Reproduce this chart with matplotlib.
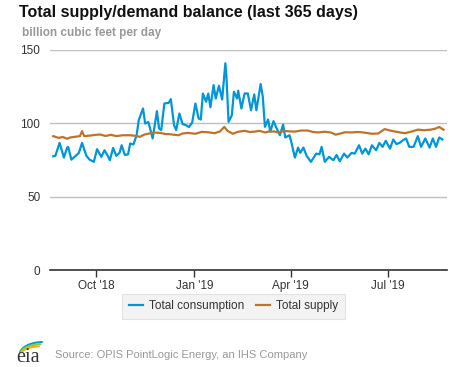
import matplotlib
matplotlib.use("Agg")
import matplotlib.pyplot as plt
import numpy as np
import pandas as pd

plt.rcParams['font.family'] = ['Liberation Sans', 'DejaVu Sans']

# ---- data ----
cons_dates = [
    "2018-08-22", "2018-08-24", "2018-08-28", "2018-09-01", "2018-09-04", "2018-09-05",
    "2018-09-08", "2018-09-12", "2018-09-15", "2018-09-18", "2018-09-22", "2018-09-25",
    "2018-09-29", "2018-10-02", "2018-10-06", "2018-10-09", "2018-10-12", "2018-10-14",
    "2018-10-17", "2018-10-20", "2018-10-23", "2018-10-25", "2018-10-28", "2018-10-31",
    "2018-11-02", "2018-11-05", "2018-11-08", "2018-11-10", "2018-11-14", "2018-11-16",
    "2018-11-19", "2018-11-21", "2018-11-23", "2018-11-27", "2018-11-29", "2018-12-01",
    "2018-12-04", "2018-12-08", "2018-12-10", "2018-12-13", "2018-12-15", "2018-12-18",
    "2018-12-21", "2018-12-24", "2018-12-27", "2018-12-30", "2019-01-02", "2019-01-05",
    "2019-01-07", "2019-01-09", "2019-01-12", "2019-01-14", "2019-01-16", "2019-01-19",
    "2019-01-21", "2019-01-24", "2019-01-27", "2019-01-30", "2019-01-31", "2019-02-02",
    "2019-02-05", "2019-02-07", "2019-02-10", "2019-02-11", "2019-02-14", "2019-02-17",
    "2019-02-20", "2019-02-23", "2019-02-26", "2019-02-28", "2019-03-04", "2019-03-06",
    "2019-03-08", "2019-03-11", "2019-03-13", "2019-03-16", "2019-03-19", "2019-03-22",
    "2019-03-25", "2019-03-27", "2019-03-31", "2019-04-02", "2019-04-05", "2019-04-08",
    "2019-04-10", "2019-04-13", "2019-04-16", "2019-04-20", "2019-04-25", "2019-04-28",
    "2019-04-30", "2019-05-03", "2019-05-07", "2019-05-11", "2019-05-14", "2019-05-17",
    "2019-05-21", "2019-05-24", "2019-05-28", "2019-05-31", "2019-06-04", "2019-06-07",
    "2019-06-10", "2019-06-13", "2019-06-16", "2019-06-20", "2019-06-23", "2019-06-26",
    "2019-06-29", "2019-07-03", "2019-07-06", "2019-07-09", "2019-07-12", "2019-07-15",
    "2019-07-18", "2019-07-21", "2019-07-25", "2019-07-29", "2019-08-01", "2019-08-05",
    "2019-08-09", "2019-08-12", "2019-08-15", "2019-08-18", "2019-08-21",
]
consumption = [
    77.7, 78.0, 86.8, 76.8, 83.6, 84.0,
    75.4, 78.0, 80.0, 86.8, 78.0, 75.4,
    73.9, 82.5, 77.3, 81.8, 78.0, 75.0,
    83.4, 78.0, 80.0, 85.2, 78.6, 79.0,
    86.4, 85.7, 92.0, 102.3, 110.2, 100.0,
    101.0, 95.5, 89.8, 108.4, 96.6, 95.5,
    113.6, 114.0, 116.6, 98.9, 95.5, 106.8,
    99.6, 98.9, 97.6, 100.7, 113.6, 103.4,
    102.7, 120.4, 114.8, 120.4, 111.0, 126.1,
    117.0, 125.7, 116.3, 141.0, 131.8, 101.1,
    105.5, 121.6, 117.0, 122.3, 110.2, 120.4,
    120.4, 109.0, 119.8, 109.0, 126.8, 118.2,
    97.7, 102.7, 94.3, 101.6, 96.6, 92.0,
    99.3, 90.5, 92.0, 86.4, 76.8, 83.6,
    80.0, 83.6, 78.0, 73.9, 79.5, 79.0,
    84.1, 73.9, 77.3, 75.0, 78.6, 74.3,
    79.5, 76.8, 80.0, 79.5, 85.2, 79.5,
    82.9, 79.0, 85.2, 81.8, 86.8, 84.1,
    88.2, 82.9, 89.1, 86.0, 86.8, 88.6,
    89.8, 84.1, 84.1, 91.4, 84.1, 89.8,
    83.6, 89.8, 84.1, 90.5, 89.1,
]

supply_dates = [
    "2018-08-22", "2018-08-27", "2018-08-31", "2018-09-04", "2018-09-07", "2018-09-11",
    "2018-09-16", "2018-09-18", "2018-09-20", "2018-09-26", "2018-10-01", "2018-10-05",
    "2018-10-10", "2018-10-15", "2018-10-20", "2018-10-26", "2018-11-02", "2018-11-07",
    "2018-11-11", "2018-11-15", "2018-11-20", "2018-11-25", "2018-11-30", "2018-12-05",
    "2018-12-09", "2018-12-17", "2018-12-21", "2018-12-26", "2019-01-02", "2019-01-08",
    "2019-01-14", "2019-01-20", "2019-01-25", "2019-01-29", "2019-02-01", "2019-02-06",
    "2019-02-11", "2019-02-17", "2019-02-22", "2019-02-27", "2019-03-03", "2019-03-08",
    "2019-03-12", "2019-03-17", "2019-03-21", "2019-03-26", "2019-03-31", "2019-04-05",
    "2019-04-11", "2019-04-17", "2019-04-22", "2019-04-27", "2019-05-03", "2019-05-09",
    "2019-05-13", "2019-05-16", "2019-05-22", "2019-05-28", "2019-06-03", "2019-06-09",
    "2019-06-16", "2019-06-22", "2019-06-28", "2019-07-03", "2019-07-08", "2019-07-13",
    "2019-07-17", "2019-07-23", "2019-07-29", "2019-08-04", "2019-08-10", "2019-08-14",
    "2019-08-18", "2019-08-22",
]
supply = [
    91.4, 90.2, 90.8, 89.6, 90.5, 90.9,
    91.4, 94.8, 91.4, 91.8, 92.3, 92.5,
    91.5, 92.3, 91.4, 92.0, 92.0, 91.6,
    90.9, 92.4, 93.2, 93.8, 93.6, 92.8,
    92.7, 92.0, 93.2, 93.6, 93.0, 94.3,
    94.0, 93.4, 94.6, 97.7, 95.0, 93.0,
    94.4, 95.0, 94.2, 94.5, 95.0, 93.9,
    94.6, 94.5, 93.8, 95.0, 94.6, 94.5,
    95.2, 95.2, 94.2, 93.9, 94.4, 93.8,
    92.4, 92.9, 94.0, 93.9, 94.2, 93.8,
    93.0, 93.2, 96.2, 95.2, 94.5, 93.8,
    93.4, 94.5, 95.8, 95.4, 95.8, 96.4,
    97.6, 95.8,
]

tick_dates = ["2018-10-01", "2019-01-01", "2019-04-01", "2019-07-01"]
tick_labels = ["Oct '18", "Jan '19", "Apr '19", "Jul '19"]
y_ticks = [0, 50, 100, 150]

# ---- figure ----
fig = plt.figure(figsize=(4.77, 3.67), dpi=100)
ax = fig.add_axes([0.1048, 0.263, 0.8317, 0.6008])

cd = pd.to_datetime(cons_dates)
sd = pd.to_datetime(supply_dates)
ax.plot(cd, consumption, color="#0096D7", lw=1.6, label="Total consumption", zorder=3)
ax.plot(sd, supply, color="#BD732A", lw=1.6, label="Total supply", zorder=3)

ax.set_xlim(pd.Timestamp("2018-08-19"), pd.Timestamp("2019-08-25"))
ax.set_ylim(0, 150)
ax.set_yticks(y_ticks)
ax.set_yticklabels([str(v) for v in y_ticks], fontsize=8.5, color="#333333")
ax.set_xticks(pd.to_datetime(tick_dates))
ax.set_xticklabels(tick_labels, fontsize=8.5, color="#333333")
ax.tick_params(axis="y", length=0, pad=7)
ax.tick_params(axis="x", length=5, width=1, color="#333333", pad=2)
ax.grid(axis="y", color="#c0c0c0", lw=1)
ax.set_axisbelow(True)
for s in ["top", "right", "left"]:
    ax.spines[s].set_visible(False)
ax.spines["bottom"].set_color("#333333")
ax.spines["bottom"].set_linewidth(1.2)
ax.spines["bottom"].set_zorder(4)

leg = fig.legend(loc="center", bbox_to_anchor=(0.4895, 0.1655), ncol=2, fontsize=8.5,
                 frameon=True, fancybox=False, handlelength=1.2, handletextpad=0.5,
                 columnspacing=1.0, borderpad=0.55)
leg.get_frame().set_facecolor("#f0f0f0")
leg.get_frame().set_edgecolor("#dddddd")
leg.get_frame().set_linewidth(0.8)
for t in leg.get_texts():
    t.set_color("#333333")

fig.text(19 / 477, 1 - 5 / 367, "Total supply/demand balance (last 365 days)",
         fontsize=11.5, fontweight="bold", color="#111111", va="top", ha="left")
fig.text(22 / 477, 1 - 27 / 367, "billion cubic feet per day",
         fontsize=8.5, fontweight="bold", color="#999999", va="top", ha="left")

fig.text(55 / 477, 1 - 355 / 367, "Source: OPIS PointLogic Energy, an IHS Company",
         fontsize=8, color="#999999", va="center", ha="left")

# eia logo: serif text with three swoosh curves, in pixel-unit axes
lax = fig.add_axes([15 / 477, 1 - 365 / 367, 30 / 477, 26 / 367])
lax.set_xlim(0, 30)
lax.set_ylim(0, 26)
lax.axis("off")
lax.text(1.5, 2.8, "eia", fontsize=14.5, family="Liberation Serif", color="#333333",
         ha="left", va="baseline")
t = np.linspace(0, 1, 40)
for i, col in enumerate(["#00a0c6", "#8dc63f", "#f5b000"]):
    p0 = np.array([5.0 + i * 0.6, 13.0 - i * 0.2])
    p1 = np.array([10.0 + i * 0.5, 22.0 - i * 2.0])
    p2 = np.array([27.0 - i * 1.5, 23.0 - i * 2.2])
    bx = (1 - t) ** 2 * p0[0] + 2 * (1 - t) * t * p1[0] + t ** 2 * p2[0]
    by = (1 - t) ** 2 * p0[1] + 2 * (1 - t) * t * p1[1] + t ** 2 * p2[1]
    lax.plot(bx, by, color=col, lw=1.5, solid_capstyle="round")

fig.savefig("out.png", dpi=100)
